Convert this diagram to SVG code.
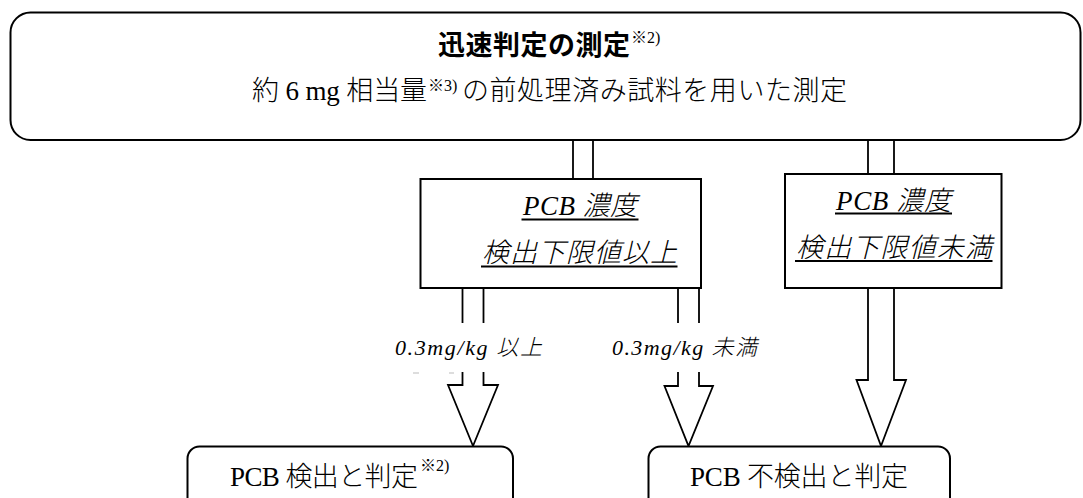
<svg xmlns="http://www.w3.org/2000/svg" width="1083" height="498" viewBox="0 0 1083 498">
<style>
.box{fill:#fff;stroke:#000;stroke-width:2}
.ln{fill:none;stroke:#000;stroke-width:1.8}
.arr{fill:#fff;stroke:#000;stroke-width:1.8;stroke-linejoin:miter}
.t{font-family:"Liberation Serif","Noto Sans CJK JP",serif;fill:#000;font-size:27px;font-weight:300}
.b{font-weight:bold}
.i{font-style:italic}
.sup{font-family:"Liberation Serif","Noto Sans CJK JP",serif;fill:#000;font-size:16px;font-weight:300}
.lab{font-family:"Liberation Serif","Noto Sans CJK JP",serif;fill:#000;font-size:22px;font-style:italic;font-weight:300}
.ul{stroke:#000;stroke-width:2}
</style>
<rect width="1083" height="498" fill="#fff"/>
<g id="connectors">
  <line class="ln" x1="573" y1="140" x2="573" y2="179"/>
  <line class="ln" x1="593" y1="140" x2="593" y2="179"/>
  <line class="ln" x1="868" y1="140" x2="868" y2="174"/>
  <line class="ln" x1="894" y1="140" x2="894" y2="174"/>
  <line class="ln" x1="462.5" y1="288" x2="462.5" y2="323"/>
  <line class="ln" x1="483.5" y1="288" x2="483.5" y2="323"/>
  <path class="arr" d="M462.5,372 V385 H448 L473,446 L498,385 H483.5 V372"/>
  <line class="ln" x1="678" y1="288" x2="678" y2="323"/>
  <line class="ln" x1="699" y1="288" x2="699" y2="323"/>
  <path class="arr" d="M678,372 V386 H664.5 L688.5,446 L713,386 H699 V372"/>
  <path class="arr" d="M868,288 V380 H856.5 L881,446 L906,380 H894 V288"/>
  <line x1="413" y1="373" x2="419" y2="373" stroke="#bbb" stroke-width="1"/>
  <line x1="449" y1="373" x2="454" y2="373" stroke="#bbb" stroke-width="1"/>
  <text class="lab" x="395" y="355" textLength="147" lengthAdjust="spacing">0.3mg/kg 以上</text>
  <text class="lab" x="612" y="355" textLength="145" lengthAdjust="spacing">0.3mg/kg 未満</text>
</g>
<g id="node-top">
  <rect class="box" x="10.5" y="12.5" width="1070" height="127.5" rx="20" ry="20"/>
  <text class="t b" x="438" y="55" textLength="192" lengthAdjust="spacing">迅速判定の測定</text>
  <text class="sup" x="631" y="43">※2)</text>
  <text class="t" x="252" y="100" textLength="175" lengthAdjust="spacing">約 6 mg 相当量</text>
  <text class="sup" x="428" y="91">※3)</text>
  <text class="t" x="462" y="100" textLength="385" lengthAdjust="spacing">の前処理済み試料を用いた測定</text>
</g>
<g id="node-above">
  <rect class="box" x="420.5" y="179" width="280.5" height="109"/>
  <text class="t i" x="523" y="215" textLength="114" lengthAdjust="spacing">PCB 濃度</text>
  <line class="ul" x1="521.5" y1="219.5" x2="638.5" y2="219.5"/>
  <text class="t i" x="482" y="262" textLength="195" lengthAdjust="spacing">検出下限値以上</text>
  <line class="ul" x1="481" y1="266.5" x2="677.5" y2="266.5"/>
</g>
<g id="node-below">
  <rect class="box" x="785" y="174" width="216.5" height="114"/>
  <text class="t i" x="836" y="210" textLength="115" lengthAdjust="spacing">PCB 濃度</text>
  <line class="ul" x1="835" y1="213.5" x2="952" y2="213.5"/>
  <text class="t i" x="796" y="257" textLength="196" lengthAdjust="spacing">検出下限値未満</text>
  <line class="ul" x1="795" y1="261" x2="992.5" y2="261"/>
</g>
<g id="node-detected">
  <rect class="box" x="187.5" y="446.5" width="325.5" height="70" rx="12" ry="12"/>
  <text class="t" x="230" y="486" textLength="188" lengthAdjust="spacing">PCB 検出と判定</text>
  <text class="sup" x="420" y="471">※2)</text>
</g>
<g id="node-notdetected">
  <rect class="box" x="648.5" y="446.5" width="301.5" height="70" rx="12" ry="12"/>
  <text class="t" x="690" y="486" textLength="218" lengthAdjust="spacing">PCB 不検出と判定</text>
</g>
</svg>
